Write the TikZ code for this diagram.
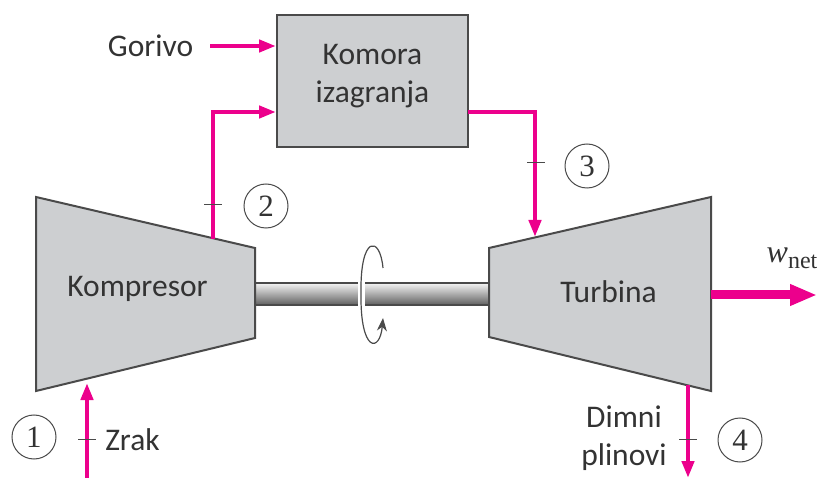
\documentclass[tikz,border=0pt]{standalone}
\usepackage{fontspec}
\setmainfont{Carlito}
\newfontfamily\digitfont{Liberation Serif}
\usetikzlibrary{calc}
\usetikzlibrary{positioning}
\usetikzlibrary{arrows.meta}
\definecolor{flowcol}{HTML}{EC008C}
\definecolor{bodycol}{HTML}{CDCFD1}
\definecolor{linecol}{HTML}{4A4A4A}
\definecolor{textcol}{HTML}{333333}
\tikzset{
	unit/.style={draw=linecol, fill=bodycol, line width=2pt, line join=miter},
	lbl/.style={text=textcol, font=\fontsize{31.5}{38}\selectfont, align=center, inner sep=0pt},
	state/.style={circle, draw=linecol, line width=1pt, minimum size=44pt, inner sep=0pt, text=textcol, font=\digitfont\fontsize{31}{31}\selectfont},
	flow/.style={draw=flowcol, line width=4.5pt, -{Triangle[width=12pt,length=17pt]}},
	bigflow/.style={draw=flowcol, line width=9pt, -{Triangle[width=20pt,length=27pt]}},
	tick/.style={draw=linecol, line width=1pt}
}
\begin{document}
\begin{tikzpicture}[x=1pt,y=-1pt]
	\useasboundingbox (0,0) rectangle (817,478);
	% shaft
	\shade[top color=white!92!gray, bottom color=gray!75!black] (255,283) rectangle (489,305);
	\draw[linecol, line width=2pt] (255,283) -- (489,283);
	\draw[linecol, line width=2.5pt] (255,305) -- (489,305);
	\fill[white] (358,281) rectangle (365,307);
	\coordinate (ringa) at (383,268);
	\coordinate (ringb) at (383,318);
	\draw[linecol, line width=1.2pt, -{Stealth[width=10pt,length=13pt]}] (ringa) .. controls (380,235) and (360,235) .. (361,293) .. controls (360,353) and (380,353) .. (ringb);
	% machines
	\draw[unit] (36,197) -- (255,248) -- (255,338) -- (36,391) -- cycle;
	\draw[unit] (489,248) -- (711,197) -- (711,391) -- (489,337) -- cycle;
	\node[unit, minimum width=191pt, minimum height=132pt, inner sep=0pt] (komora) at (372.5,81) {};
	\node[lbl] (komoralbl) at (372.5,76) {Komora\\izagranja};
	\node[lbl] (kompresor) at (137.5,289) {Kompresor};
	\node[lbl] (turbina) at (608.5,292) {Turbina};
	\node[lbl] (gorivo) at (150.5,46) {Gorivo};
	\node[lbl] (zrak) at (132.5,440) {Zrak};
	\node[lbl] (dimni) at (624,438) {Dimni\\plinovi};
	\node[text=textcol, font=\digitfont, inner sep=0pt] (wnet) at (792,258) {{\fontsize{32}{32}\selectfont\itshape w}\raisebox{-6pt}{\fontsize{24}{24}\selectfont net}};
	\node[state] (s1) at (34,437) {1};
	\node[state] (s2) at (266,206) {2};
	\node[state] (s3) at (587,166) {3};
	\node[state] (s4) at (740,440) {4};
	% flows
	\coordinate (inA) at (87,478);
	\coordinate (inB) at (87,383);
	\coordinate (outA) at (213,239);
	\coordinate (outB) at (213,112);
	\coordinate (hotA) at (468,112);
	\coordinate (hotB) at (535,112);
	\coordinate (hotC) at (535,237);
	\coordinate (netA) at (711,295);
	\coordinate (netB) at (817,295);
	\coordinate (exA) at (688,385);
	\coordinate (exB) at (688,478);
	\draw[flow] ([xshift=17pt]gorivo.east) -- (komora.west |- gorivo);
	\draw[flow] (outA) -- (outB) -- (komora.west |- outB);
	\draw[flow] (hotA) -- (hotB) -- (hotC);
	\draw[flow] (inA) -- (inB);
	\draw[flow] (exA) -- (exB);
	\draw[bigflow] (netA) -- (netB);
	% ticks
	\draw[tick] (78,439) -- (96,439);
	\draw[tick] (204,205) -- (222,205);
	\draw[tick] (527,163) -- (545,163);
	\draw[tick] (679,439) -- (697,439);
\end{tikzpicture}
\end{document}
